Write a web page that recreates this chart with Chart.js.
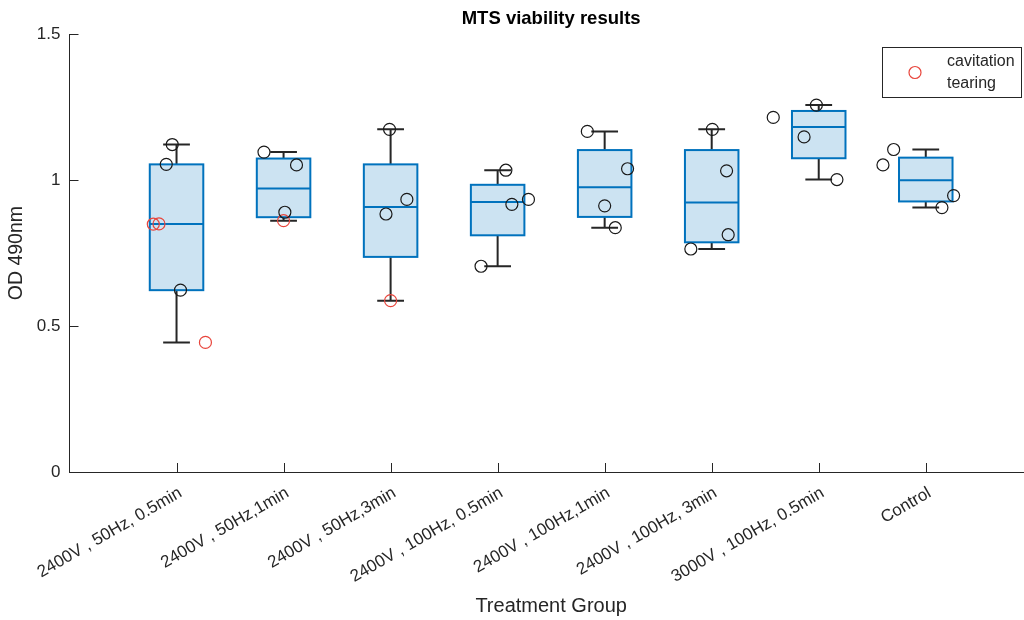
<!DOCTYPE html>
<html>
<head>
<meta charset="utf-8">
<script src="https://cdn.jsdelivr.net/npm/chart.js@4.4.1/dist/chart.umd.min.js"></script>
<style>
  html, body { margin: 0; padding: 0; overflow: hidden; background: #fff; }
  #wrap { width: 1040px; height: 620px; position: relative; }
</style>
</head>
<body>
<div id="wrap"><canvas id="chart"></canvas></div>
<script>
// Treatment groups (x axis categories)
const groupLabels = [
  '2400V , 50Hz, 0.5min',
  '2400V , 50Hz,1min',
  '2400V , 50Hz,3min',
  '2400V , 100Hz, 0.5min',
  '2400V , 100Hz,1min',
  '2400V , 100Hz, 3min',
  '3000V , 100Hz, 0.5min',
  'Control'
];

// Individual OD 490nm readings per group
const od_2400_50_05  = [1.122, 1.054, 0.849, 0.850, 0.623, 0.444];
const od_2400_50_1   = [1.096, 1.052, 0.890, 0.861];
const od_2400_50_3   = [1.174, 0.934, 0.884, 0.587];
const od_2400_100_05 = [1.034, 0.934, 0.917, 0.705];
const od_2400_100_1  = [1.167, 1.039, 0.912, 0.837];
const od_2400_100_3  = [1.174, 1.032, 0.813, 0.764];
const od_3000_100_05 = [1.257, 1.215, 1.148, 1.002];
const od_control     = [1.105, 1.052, 0.947, 0.906];

// Horizontal jitter of each reading (in category units)
const jit_2400_50_05  = [-0.040, -0.096, -0.217, -0.164, 0.037, 0.270];
const jit_2400_50_1   = [-0.183, 0.121, 0.012, 0.000];
const jit_2400_50_3   = [-0.010, 0.152, -0.043, 0.000];
const jit_2400_100_05 = [0.077, 0.288, 0.133, -0.155];
const jit_2400_100_1  = [-0.162, 0.214, 0.000, 0.099];
const jit_2400_100_3  = [0.006, 0.139, 0.154, -0.195];
const jit_3000_100_05 = [-0.022, -0.425, -0.137, 0.170];
const jit_control     = [-0.300, -0.400, 0.260, 0.151];

// Wells showing cavitation tearing (1 = yes)
const tear_2400_50_05  = [0, 0, 1, 1, 0, 1];
const tear_2400_50_1   = [0, 0, 0, 1];
const tear_2400_50_3   = [0, 0, 0, 1];
const tear_2400_100_05 = [0, 0, 0, 0];
const tear_2400_100_1  = [0, 0, 0, 0];
const tear_2400_100_3  = [0, 0, 0, 0];
const tear_3000_100_05 = [0, 0, 0, 0];
const tear_control     = [0, 0, 0, 0];

// Box plot summary statistics per group
const boxMin    = [0.444, 0.861, 0.587, 0.705, 0.837, 0.764, 1.002, 0.906];
const boxQ1     = [0.623, 0.873, 0.737, 0.811, 0.874, 0.787, 1.075, 0.927];
const boxMedian = [0.850, 0.971, 0.908, 0.925, 0.976, 0.923, 1.182, 1.000];
const boxQ3     = [1.054, 1.074, 1.054, 0.984, 1.103, 1.103, 1.237, 1.077];
const boxMax    = [1.122, 1.096, 1.174, 1.034, 1.167, 1.174, 1.257, 1.105];

const yTicks = [0, 0.5, 1, 1.5];

const readings = [od_2400_50_05, od_2400_50_1, od_2400_50_3, od_2400_100_05,
                  od_2400_100_1, od_2400_100_3, od_3000_100_05, od_control];
const jitters  = [jit_2400_50_05, jit_2400_50_1, jit_2400_50_3, jit_2400_100_05,
                  jit_2400_100_1, jit_2400_100_3, jit_3000_100_05, jit_control];
const tears    = [tear_2400_50_05, tear_2400_50_1, tear_2400_50_3, tear_2400_100_05,
                  tear_2400_100_1, tear_2400_100_3, tear_3000_100_05, tear_control];

const plainPts = [], tearPts = [];
readings.forEach((vals, g) => {
  vals.forEach((v, k) => {
    const p = { x: g + 1 + jitters[g][k], y: v };
    (tears[g][k] ? tearPts : plainPts).push(p);
  });
});

const AX = '#262626';
const BLUE = '#0072BD';
const RED = '#e8453c';
const FONT = "'Liberation Sans', Arial, Helvetica, sans-serif";

// Box, whisker and median drawing behind the scatter points
const boxPlugin = {
  id: 'boxes',
  beforeDatasetsDraw(chart) {
    const { ctx, scales: { x, y } } = chart;
    ctx.save();
    groupLabels.forEach((_, i) => {
      const c = i + 1;
      const cx = x.getPixelForValue(c);
      const bl = x.getPixelForValue(c - 0.25), br = x.getPixelForValue(c + 0.25);
      const wl = x.getPixelForValue(c - 0.125), wr = x.getPixelForValue(c + 0.125);
      const yMin = y.getPixelForValue(boxMin[i]), yMax = y.getPixelForValue(boxMax[i]);
      const yQ1 = y.getPixelForValue(boxQ1[i]), yQ3 = y.getPixelForValue(boxQ3[i]);
      const yMed = y.getPixelForValue(boxMedian[i]);
      // whiskers
      ctx.strokeStyle = AX; ctx.lineWidth = 2;
      ctx.beginPath();
      ctx.moveTo(cx, yQ3); ctx.lineTo(cx, yMax);
      ctx.moveTo(wl, yMax); ctx.lineTo(wr, yMax);
      ctx.moveTo(cx, yQ1); ctx.lineTo(cx, yMin);
      ctx.moveTo(wl, yMin); ctx.lineTo(wr, yMin);
      ctx.stroke();
      // box
      ctx.fillStyle = 'rgb(204,227,242)';
      ctx.fillRect(bl, yQ3, br - bl, yQ1 - yQ3);
      ctx.strokeStyle = BLUE; ctx.lineWidth = 2;
      ctx.strokeRect(bl, yQ3, br - bl, yQ1 - yQ3);
      // median
      ctx.beginPath();
      ctx.moveTo(bl, yMed); ctx.lineTo(br, yMed);
      ctx.stroke();
    });
    ctx.restore();
  },
  afterDatasetsDraw(chart) {
    // inward tick marks
    const { ctx, scales: { x, y }, chartArea } = chart;
    ctx.save();
    ctx.strokeStyle = AX; ctx.lineWidth = 1;
    ctx.beginPath();
    yTicks.forEach(v => {
      const py = Math.round(y.getPixelForValue(v)) + 0.5;
      ctx.moveTo(chartArea.left, py); ctx.lineTo(chartArea.left + 9, py);
    });
    groupLabels.forEach((_, i) => {
      const px = Math.round(x.getPixelForValue(i + 1)) + 0.5;
      ctx.moveTo(px, chartArea.bottom); ctx.lineTo(px, chartArea.bottom - 9);
    });
    ctx.stroke();
    ctx.restore();
  },
  afterDraw(chart) {
    // legend box
    const { ctx } = chart;
    ctx.save();
    ctx.fillStyle = '#fff';
    ctx.fillRect(882.5, 47.5, 139, 50);
    ctx.strokeStyle = AX; ctx.lineWidth = 1;
    ctx.strokeRect(882.5, 47.5, 139, 50);
    ctx.strokeStyle = RED; ctx.lineWidth = 1.2;
    ctx.beginPath(); ctx.arc(915, 72.5, 6, 0, Math.PI * 2); ctx.stroke();
    ctx.fillStyle = AX;
    ctx.font = '16px ' + FONT;
    ctx.textBaseline = 'middle';
    ctx.textAlign = 'left';
    ctx.fillText('cavitation', 947, 62);
    ctx.fillText('tearing', 947, 84);
    ctx.restore();
  }
};

new Chart(document.getElementById('chart'), {
  type: 'scatter',
  data: {
    datasets: [
      {
        label: 'reading',
        data: plainPts,
        pointStyle: 'circle',
        pointRadius: 6,
        pointBorderWidth: 1.2,
        pointBorderColor: '#1a1a1a',
        pointBackgroundColor: 'rgba(0,0,0,0)'
      },
      {
        label: 'cavitation tearing',
        data: tearPts,
        pointStyle: 'circle',
        pointRadius: 6,
        pointBorderWidth: 1.2,
        pointBorderColor: RED,
        pointBackgroundColor: 'rgba(0,0,0,0)'
      }
    ]
  },
  options: {
    responsive: true,
    maintainAspectRatio: false,
    animation: false,
    layout: { padding: { right: 2 } },
    plugins: {
      legend: { display: false },
      tooltip: { enabled: false },
      title: {
        display: true,
        fullSize: false,
        text: 'MTS viability results',
        color: '#000',
        font: { family: FONT, size: 18.5, weight: 'bold' },
        padding: { top: 8, bottom: 4 }
      }
    },
    scales: {
      x: {
        type: 'linear',
        min: 0,
        max: 9,
        afterBuildTicks: s => { s.ticks = groupLabels.map((_, i) => ({ value: i + 1 })); },
        afterFit: s => { s.height = 148; },
        ticks: {
          callback: v => groupLabels[v - 1] || '',
          autoSkip: false,
          maxRotation: 30,
          minRotation: 30,
          padding: 11,
          labelOffset: 4,
          color: AX,
          font: { family: FONT, size: 17 }
        },
        grid: { display: true, drawOnChartArea: false, drawTicks: false },
        border: { display: true, color: AX, width: 1 },
        title: {
          display: true,
          text: 'Treatment Group',
          color: AX,
          font: { family: FONT, size: 20 },
          padding: { top: 0, bottom: 2 }
        }
      },
      y: {
        min: 0,
        max: 1.5,
        afterBuildTicks: s => { s.ticks = yTicks.map(v => ({ value: v })); },
        afterFit: s => { s.width = 69.5; },
        ticks: {
          callback: v => String(v),
          padding: 9,
          color: AX,
          font: { family: FONT, size: 17 }
        },
        grid: { display: true, drawOnChartArea: false, drawTicks: false },
        border: { display: true, color: AX, width: 1 },
        title: {
          display: true,
          text: 'OD 490nm',
          color: AX,
          font: { family: FONT, size: 19.5 },
          padding: { top: 5, bottom: 0 }
        }
      }
    }
  },
  plugins: [boxPlugin]
});
</script>
</body>
</html>
